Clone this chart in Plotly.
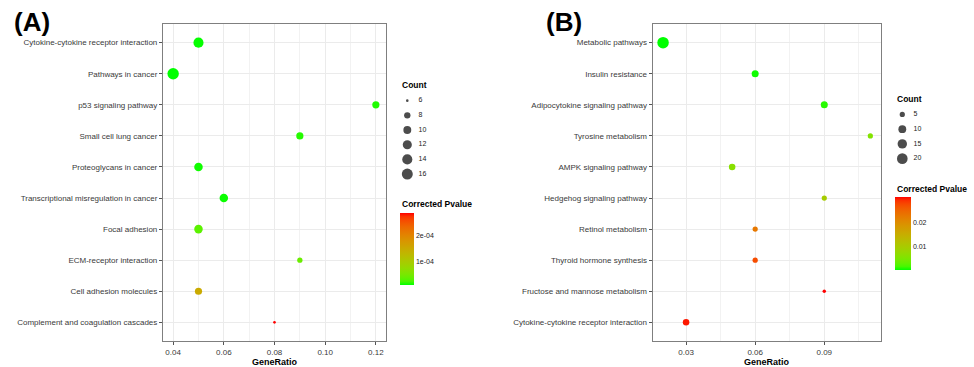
import numpy as np
import plotly.graph_objects as go

W, H = 974, 367

# ---------------- Data ----------------
a_terms = ["Cytokine-cytokine receptor interaction", "Pathways in cancer", "p53 signaling pathway",
           "Small cell lung cancer", "Proteoglycans in cancer", "Transcriptional misregulation in cancer",
           "Focal adhesion", "ECM-receptor interaction", "Cell adhesion molecules",
           "Complement and coagulation cascades"]
a_ratio = [0.05, 0.04, 0.12, 0.09, 0.05, 0.06, 0.05, 0.09, 0.05, 0.08]
a_count = [14, 17, 9, 9, 11, 11, 11, 7, 9, 6]
a_pval = [1.0e-5, 0.9e-5, 1.5e-5, 1.6e-5, 1.2e-5, 1.1e-5, 3.2e-5, 4.0e-5, 1.5e-4, 2.88e-4]
a_size_breaks = [6, 8, 10, 12, 14, 16]
a_color_ticks = [1e-4, 2e-4]
a_color_ticktext = ["1e-04", "2e-04"]
a_x_ticks = [0.04, 0.06, 0.08, 0.10, 0.12]
a_x_minor = [0.05, 0.07, 0.09, 0.11]

b_terms = ["Metabolic pathways", "Insulin resistance", "Adipocytokine signaling pathway",
           "Tyrosine metabolism", "AMPK signaling pathway", "Hedgehog signaling pathway",
           "Retinol metabolism", "Thyroid hormone synthesis", "Fructose and mannose metabolism",
           "Cytokine-cytokine receptor interaction"]
b_ratio = [0.02, 0.06, 0.09, 0.11, 0.05, 0.09, 0.06, 0.06, 0.09, 0.03]
b_count = [24, 8, 8, 5, 7, 5, 5, 5, 4, 7]
b_pval = [0.0002, 0.0005, 0.001, 0.0055, 0.006, 0.0095, 0.0225, 0.027, 0.0302, 0.0295]
b_size_breaks = [5, 10, 15, 20]
b_color_ticks = [0.01, 0.02]
b_color_ticktext = ["0.01", "0.02"]
b_x_ticks = [0.03, 0.06, 0.09]
b_x_minor = [0.015, 0.045, 0.075, 0.105]

FONT = "Liberation Sans, Arial, sans-serif"


# ---------------- helpers (Lab gradient like ggplot) ----------------
def _rgb2lab(rgb):
    c = np.array(rgb, dtype=float) / 255.0
    c = np.where(c <= 0.04045, c / 12.92, ((c + 0.055) / 1.055) ** 2.4)
    M = np.array([[0.4124, 0.3576, 0.1805], [0.2126, 0.7152, 0.0722], [0.0193, 0.1192, 0.9505]])
    xyz = M @ c / np.array([0.95047, 1.0, 1.08883])
    f = np.where(xyz > 0.008856, np.cbrt(xyz), 7.787 * xyz + 16 / 116)
    return np.array([116 * f[1] - 16, 500 * (f[0] - f[1]), 200 * (f[1] - f[2])])


def _lab2rgb(lab):
    L, a, b = lab
    fy = (L + 16) / 116
    fx = fy + a / 500
    fz = fy - b / 200
    f = np.array([fx, fy, fz])
    xyz = np.where(f ** 3 > 0.008856, f ** 3, (f - 16 / 116) / 7.787) * np.array([0.95047, 1.0, 1.08883])
    Mi = np.array([[3.2406, -1.5372, -0.4986], [-0.9689, 1.8758, 0.0415], [0.0557, -0.2040, 1.0570]])
    c = Mi @ xyz
    c = np.clip(c, 0, 1)
    c = np.where(c <= 0.0031308, 12.92 * c, 1.055 * c ** (1 / 2.4) - 0.055)
    c = np.clip(np.round(c * 255), 0, 255).astype(int)
    return "rgb(%d,%d,%d)" % tuple(c)


lo_lab, hi_lab = _rgb2lab((0, 255, 0)), _rgb2lab((255, 0, 0))
colorscale = [[t, _lab2rgb(lo_lab + (hi_lab - lo_lab) * t)] for t in np.linspace(0, 1, 21)]


def diam(v, vmin, vmax, dmin, dmax):
    t = np.clip((np.asarray(v, float) - vmin) / (vmax - vmin), 0, 1)
    return dmin + (dmax - dmin) * np.sqrt(t)


def expand(vals, f=0.05):
    lo, hi = min(vals), max(vals)
    d = (hi - lo) * f
    return [lo - d, hi + d]


def px_x(p):
    return p / W


def px_y(p):
    return 1 - p / H


fig = go.Figure()

panels = [
    dict(terms=a_terms, ratio=a_ratio, count=a_count, pval=a_pval, breaks=a_size_breaks,
         cticks=a_color_ticks, ctext=a_color_ticktext, xticks=a_x_ticks, xminor=a_x_minor,
         dmin=2.6, dmax=11.4, plot=(163, 386, 24, 341), leg_x=400, leg_dom=(93.3, 181.4),
         count_title_y=85, cb_title_y=204, cb=(213.3, 285.0), cb_th=14.3, label="(A)", label_x=12),
    dict(terms=b_terms, ratio=b_ratio, count=b_count, pval=b_pval, breaks=b_size_breaks,
         cticks=b_color_ticks, ctext=b_color_ticktext, xticks=b_x_ticks, xminor=b_x_minor,
         dmin=3.4, dmax=11.5, plot=(652.7, 880.7, 24, 341), leg_x=895, leg_dom=(107, 166),
         count_title_y=99, cb_title_y=189, cb=(197.3, 270.7), cb_th=15.7, label="(B)", label_x=544),
]

annotations = []
for i, P in enumerate(panels):
    xa = "x" if i == 0 else "x%d" % (2 * i + 1)
    ya = "y" if i == 0 else "y%d" % (2 * i + 1)
    xl = "x%d" % (2 * i + 2)
    yl = "y%d" % (2 * i + 2)
    vmin, vmax = min(P["count"]), max(P["count"])
    sizes = diam(P["count"], vmin, vmax, P["dmin"], P["dmax"])
    cb_top, cb_bot = P["cb"]
    fig.add_trace(go.Scatter(
        x=P["ratio"], y=P["terms"], mode="markers", xaxis=xa, yaxis=ya, showlegend=False,
        marker=dict(size=sizes, sizemode="diameter", color=P["pval"], colorscale=colorscale,
                    cmin=min(P["pval"]), cmax=max(P["pval"]), line=dict(width=0), opacity=1,
                    colorbar=dict(x=px_x(P["leg_x"]), xanchor="left", y=px_y((cb_top + cb_bot) / 2),
                                  yanchor="middle", len=cb_bot - cb_top, lenmode="pixels",
                                  thickness=P["cb_th"], thicknessmode="pixels", xpad=0, ypad=0,
                                  outlinewidth=0, ticks="", tickvals=P["cticks"], ticktext=P["ctext"],
                                  tickfont=dict(family=FONT, size=7, color="#222222"))),
        hovertemplate="%{y}<br>GeneRatio=%{x}<extra></extra>"))
    # size legend keys
    bl = [str(b) for b in P["breaks"]]
    fig.add_trace(go.Scatter(
        x=[7.3] * len(bl), y=bl, mode="markers", xaxis=xl, yaxis=yl, showlegend=False,
        marker=dict(size=diam(P["breaks"], vmin, vmax, P["dmin"], P["dmax"]), sizemode="diameter",
                    color="black", line=dict(width=0)), hoverinfo="skip"))
    fig.add_trace(go.Scatter(
        x=[18.5] * len(bl), y=bl, mode="text", text=bl, textposition="middle right",
        xaxis=xl, yaxis=yl, showlegend=False,
        textfont=dict(family=FONT, size=7, color="#222222"), hoverinfo="skip"))

    x0, x1, y0, y1 = P["plot"]
    axis_common = dict(showline=True, mirror=True, linecolor="#7f7f7f", linewidth=1.2,
                       ticks="outside", ticklen=3, tickwidth=1, tickcolor="#555555",
                       gridcolor="#ebebeb", gridwidth=1, zeroline=False,
                       tickfont=dict(family=FONT, size=8, color="#3a3a3a"))
    fig.update_layout(**{
        ("xaxis" if i == 0 else "xaxis%d" % (2 * i + 1)): dict(
            axis_common, domain=[px_x(x0), px_x(x1)], range=expand(P["ratio"]), anchor=ya,
            tickvals=P["xticks"], tickformat=".2f",
            minor=dict(tickvals=P["xminor"], showgrid=True, gridcolor="#f2f2f2", gridwidth=0.6, ticks="")),
        ("yaxis" if i == 0 else "yaxis%d" % (2 * i + 1)): dict(
            axis_common, domain=[px_y(y1), px_y(y0)], type="category", categoryorder="array",
            categoryarray=P["terms"], range=[len(P["terms"]) - 1 + 0.6, -0.6], anchor=xa),
        "xaxis%d" % (2 * i + 2): dict(domain=[px_x(P["leg_x"]), px_x(P["leg_x"] + 30)], range=[0, 30],
                                      visible=False, anchor=yl, fixedrange=True),
        "yaxis%d" % (2 * i + 2): dict(domain=[px_y(P["leg_dom"][1]), px_y(P["leg_dom"][0])],
                                      type="category", categoryorder="array", categoryarray=bl,
                                      range=[len(bl) - 0.5, -0.5], visible=False, anchor=xl, fixedrange=True),
    })
    annotations += [
        dict(text="<b>GeneRatio</b>", x=px_x((x0 + x1) / 2), y=px_y(361.5), xref="paper", yref="paper",
             showarrow=False, xanchor="center", yanchor="middle", font=dict(family=FONT, size=9, color="black")),
        dict(text="<b>Count</b>", x=px_x(P["leg_x"]), y=px_y(P["count_title_y"]), xref="paper", yref="paper",
             showarrow=False, xanchor="left", yanchor="middle", font=dict(family=FONT, size=8.5, color="black")),
        dict(text="<b>Corrected Pvalue</b>", x=px_x(P["leg_x"]), y=px_y(P["cb_title_y"]), xref="paper",
             yref="paper", showarrow=False, xanchor="left", yanchor="middle",
             font=dict(family=FONT, size=8.5, color="black")),
        dict(text="<b>%s</b>" % P["label"], x=px_x(P["label_x"]), y=px_y(22), xref="paper", yref="paper",
             showarrow=False, xanchor="left", yanchor="middle", font=dict(family=FONT, size=26, color="black")),
    ]

fig.update_layout(width=W, height=H, margin=dict(l=0, r=0, t=0, b=0), paper_bgcolor="white",
                  plot_bgcolor="white", showlegend=False, annotations=annotations,
                  font=dict(family=FONT))

fig.write_html("out.html", config={"displayModeBar": False},
               post_script="document.body.style.margin='0px';document.body.style.overflow='hidden';")
